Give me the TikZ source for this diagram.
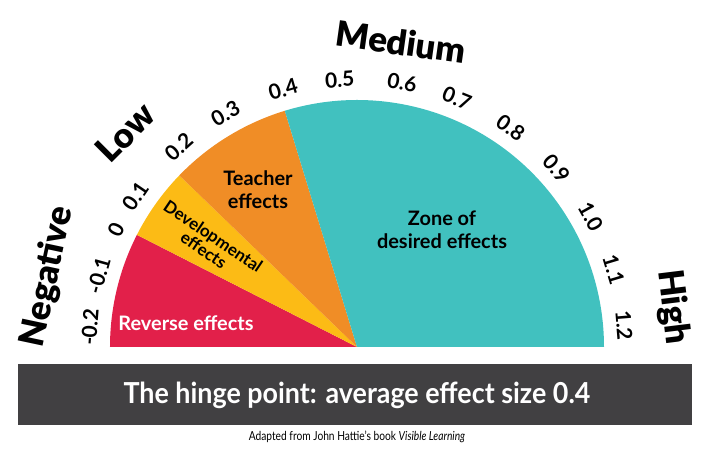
\documentclass[tikz,border=0pt]{standalone}
\usepackage{fontspec}
\setmainfont{Lato}
\newfontfamily\heavyfont{Lato Black}
\usepackage{graphicx}
\definecolor{revred}{HTML}{E2204A}
\definecolor{devyellow}{HTML}{FCBB15}
\definecolor{teachorange}{HTML}{F08D26}
\definecolor{zoneteal}{HTML}{41C1BF}
\definecolor{bargray}{HTML}{414042}

\begin{document}
\begin{tikzpicture}[x=1bp,y=1bp,
  tick/.style={font=\bfseries\fontsize{21}{21}\selectfont},
  level/.style={font=\heavyfont\fontsize{35}{35}\selectfont},
  zone/.style={font=\bfseries\fontsize{20}{23}\selectfont,align=center}]
\useasboundingbox (-357,-104) rectangle (354,347);
\coordinate (O) at (0,0);
\fill[revred] (O) -- (180:247) arc[start angle=180,end angle=153,radius=247] -- cycle;
\fill[devyellow] (O) -- (153:247) arc[start angle=153,end angle=136,radius=247] -- cycle;
\fill[teachorange] (O) -- (136:247) arc[start angle=136,end angle=107,radius=247] -- cycle;
\fill[zoneteal] (O) -- (107:247) arc[start angle=107,end angle=0,radius=247] -- cycle;
\foreach \v/\a [count=\i] in {-0.2/175.7,-0.1/164.5,0/154,0.1/145.7,0.2/131.7,0.3/119.4,0.4/106,0.5/93.7,0.6/80.3,0.7/68.1,0.8/55,0.9/41.8,1.0/29,1.1/16.8,1.2/4.7}
  \node[tick,rotate=\a-90] (tick\i) at (\a:268) {\v};
\node[level,rotate=78] (neg) at (167.2:317) {Negative};
\node[level,rotate=45] (low) at (137.2:316) {Low};
\node[level,rotate=-8] (med) at (81.8:308) {Medium};
\node[level,rotate=-83] (high) at (7.2:318) {High};
\node[zone,text=white] (rev) at (-171,24) {Reverse effects};
\node[zone,rotate=-34,font=\bfseries\fontsize{17}{17}\selectfont] (dev) at (-148.5,104) {Developmental\\effects};
\node[zone] (teach) at (-99,157) {Teacher\\effects};
\node[zone] (desired) at (85,117) {Zone of\\desired effects};
\fill[bargray] (-339,-17) rectangle (335,-78);
\node[text=white,font=\bfseries\fontsize{29}{29}\selectfont] (hinge) at (0,-48) {\scalebox{0.93}[1]{The hinge point: average effect size 0.4}};
\node[font=\fontsize{12.5}{12.5}\selectfont] (src) at (0,-90) {\scalebox{0.82}[1]{Adapted from John Hattie's book \textit{Visible Learning}}};
\end{tikzpicture}
\end{document}
